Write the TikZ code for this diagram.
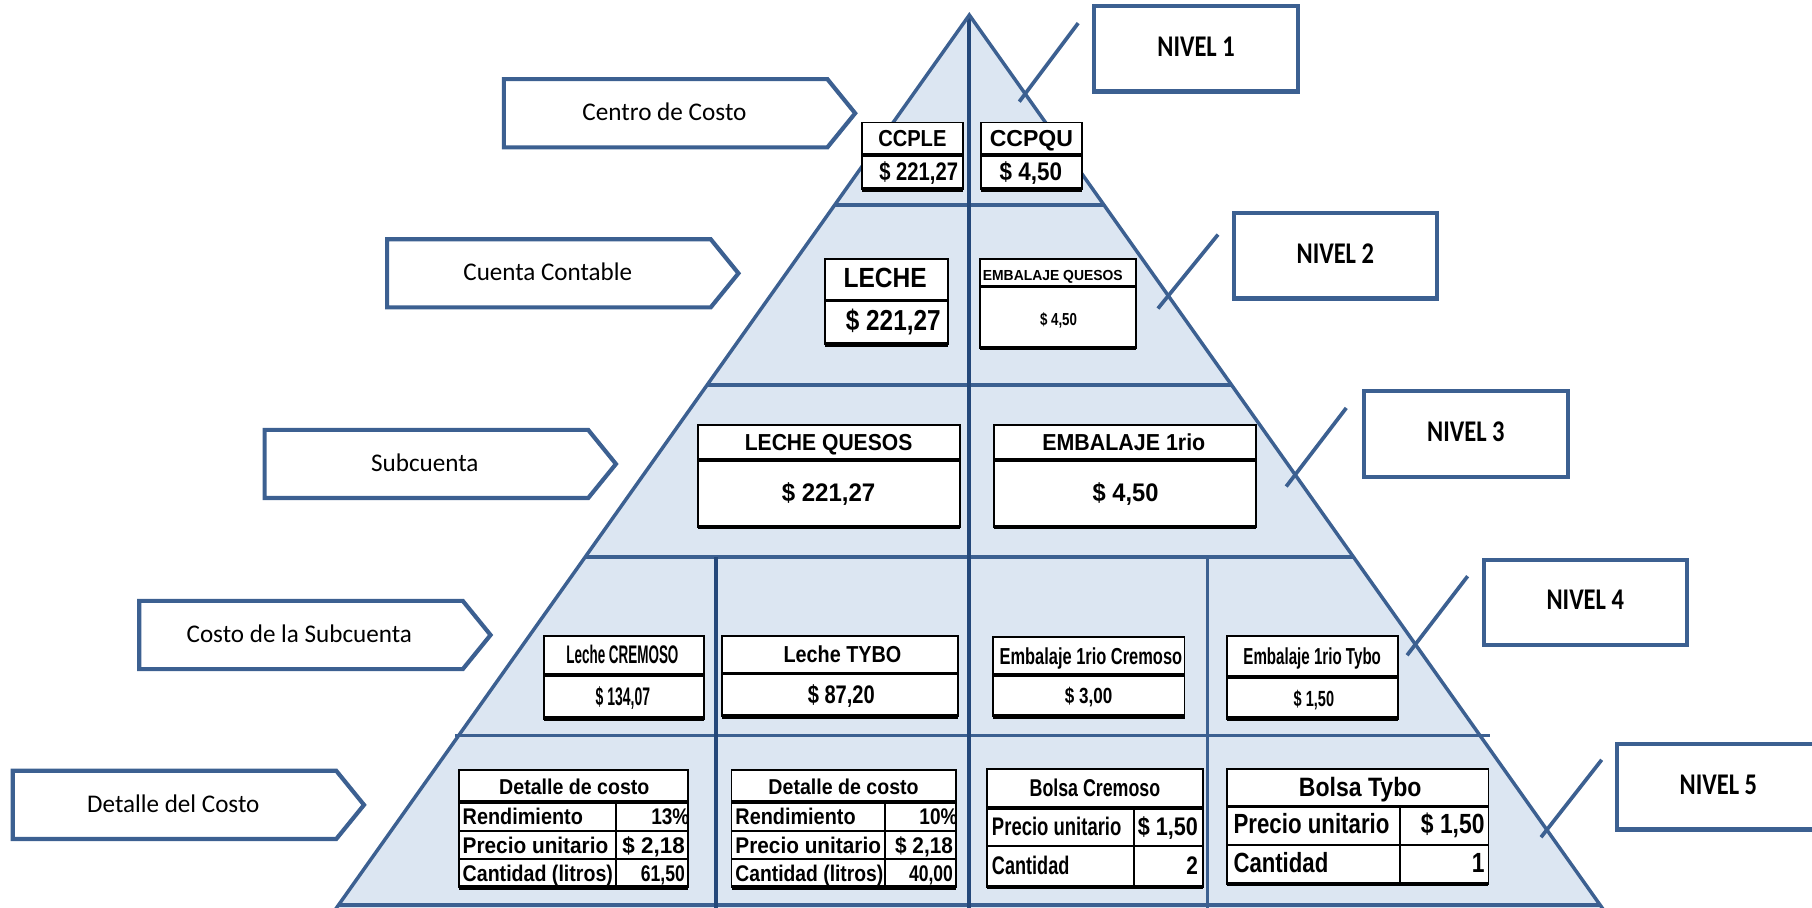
\documentclass[tikz,border=0pt]{standalone}
\usepackage{fontspec}
\usepackage{graphicx}
\setmainfont{Carlito}
\newfontfamily\arialf{Liberation Sans}

% horizontal fitting of a text to a given width (in picture units)
\newlength\fitunit
\setlength\fitunit{0.5pt}
\newcommand\fitt[2]{\resizebox{#1\fitunit}{\height}{#2}}
\newcommand\af[1]{\arialf\bfseries\fontsize{#1}{#1}\selectfont}
\newcommand\cf[1]{\fontsize{#1}{#1}\selectfont}

\definecolor{pyrfill}{RGB}{220,230,242}
\definecolor{pyrline}{RGB}{60,96,145}
\definecolor{midline}{RGB}{36,72,122}

% white table frame with a heavy bottom rule
\newcommand\tabframe[4]{%
  \fill[white] (#1,#2) rectangle (#3,#4);
  \draw[tabline] (#1,#2) rectangle (#3,#4);
  \draw[tabbottom] (#1,#4) -- (#3,#4);}

\tikzset{
  pyredge/.style={draw=pyrline, line width=1.5pt},
  pyrmid/.style={draw=midline, line width=1.8pt},
  pentline/.style={draw=pyrline, line width=1.8pt, fill=white, line join=miter},
  levelbox/.style={draw=pyrline, line width=1.8pt, fill=white, minimum width=88pt,
    minimum height=37pt, inner sep=0pt, font=\bfseries\cf{13}, text height=0.644em, text depth=0pt},
  hintline/.style={draw=pyrline, line width=1.6pt},
  penlabel/.style={inner sep=0pt, font=\cf{11}, text height=0.644em, text depth=0pt},
  tabline/.style={draw=black, line width=0.8pt},
  tabbottom/.style={draw=black, line width=2pt},
  tabsep/.style={draw=black, line width=1.5pt},
  tabrule/.style={draw=black, line width=0.8pt},
  tcell/.style={inner sep=0pt, text height=0.716em, text depth=0pt},
}

\begin{document}
\begin{tikzpicture}[x=0.5pt,y=-0.5pt]
\useasboundingbox (0,0) rectangle (1568,785);
\clip (0,0) rectangle (1568,785);

% ---------- pyramid ----------
\coordinate (apex) at (838.8,13);
\coordinate (bl) at (281,800);
\coordinate (br) at (1396.6,800);
\fill[pyrfill] (apex) -- (bl) -- (br) -- cycle;
\draw[pyredge] (722.2,177.5) -- (955.4,177.5);
\draw[pyredge] (612.0,333) -- (1065.6,333);
\draw[pyredge] (506.4,482) -- (1171.2,482);
\draw[pyredge] (394,636.5) -- (1289,636.5);
\draw[pyredge] (293,783) -- (1384.6,783);
\draw[pyrmid] (619.3,482) -- (619.3,800);
\draw[pyredge] (1044.8,482) -- (1044.8,800);
\draw[pyrmid] (apex) -- (838.8,800);
\draw[pyredge, line join=miter] (bl) -- (apex) -- (br);

% ---------- level names (left) ----------
\draw[pentline] (436,68.5) -- (716,68.5) -- (740,98) -- (716,127.5) -- (436,127.5) -- cycle;
\node[penlabel] (p1) at (575,98) {\fitt{142}{Centro de Costo}};
\draw[pentline] (335,207) -- (615,207) -- (639,236.5) -- (615,266) -- (335,266) -- cycle;
\node[penlabel] (p2) at (474,236.5) {\fitt{146}{Cuenta Contable}};
\draw[pentline] (229,372) -- (509,372) -- (533,401.5) -- (509,431) -- (229,431) -- cycle;
\node[penlabel] (p3) at (367.6,402) {\fitt{93}{Subcuenta}};
\draw[pentline] (120.5,520) -- (400.5,520) -- (424.5,549.5) -- (400.5,579) -- (120.5,579) -- cycle;
\node[penlabel] (p4) at (259,549.5) {\fitt{195}{Costo de la Subcuenta}};
\draw[pentline] (11,667) -- (291,667) -- (315,696.5) -- (291,726) -- (11,726) -- cycle;
\node[penlabel] (p5) at (150,696.5) {\fitt{149}{Detalle del Costo}};

% ---------- level boxes (right) ----------
\node[levelbox] (n1) at (1035,42.2) {\fitt{67}{NIVEL 1}};
\node[levelbox] (n2) at (1155.5,221.3) {\fitt{67}{NIVEL 2}};
\node[levelbox] (n3) at (1268.5,375.5) {\fitt{67}{NIVEL 3}};
\node[levelbox] (n4) at (1371.8,521.3) {\fitt{67}{NIVEL 4}};
\node[levelbox] (n5) at (1487,680.8) {\fitt{67}{NIVEL 5}};

% ---------- level marks across the right edge ----------
\coordinate (m1a) at (933,20);     \coordinate (m1b) at (882,88);
\coordinate (m2a) at (1054,203);   \coordinate (m2b) at (1002,267);
\coordinate (m3a) at (1165,353);   \coordinate (m3b) at (1113,421);
\coordinate (m4a) at (1270,498.6); \coordinate (m4b) at (1217.6,567);
\coordinate (m5a) at (1386,657.5); \coordinate (m5b) at (1333.5,724.5);
\draw[hintline] (m1a) -- (m1b);
\draw[hintline] (m2a) -- (m2b);
\draw[hintline] (m3a) -- (m3b);
\draw[hintline] (m4a) -- (m4b);
\draw[hintline] (m5a) -- (m5b);

% ---------- level 1 ----------
\tabframe{746}{106}{833}{164}
\draw[tabsep] (746,134) -- (833,134);
\node[tcell, font=\af{10}] (ccple-h) at (789.5,120) {\fitt{59}{CCPLE}};
\node[tcell, font=\af{11}] (ccple-v) at (795,149) {\fitt{68}{\$ 221,27}};
\tabframe{849}{106}{936}{164}
\draw[tabsep] (849,134) -- (936,134);
\node[tcell, font=\af{10}] (ccpqu-h) at (892.5,120) {\fitt{72}{CCPQU}};
\node[tcell, font=\af{11}] (ccpqu-v) at (892,149) {\fitt{54}{\$ 4,50}};

% ---------- level 2 ----------
\tabframe{714}{224}{820}{298}
\draw[tabsep] (714,260) -- (820,260);
\node[tcell, font=\af{12}] (leche-h) at (766,242) {\fitt{72}{LECHE}};
\node[tcell, font=\af{12.5}] (leche-v) at (773,279) {\fitt{82}{\$ 221,27}};
\tabframe{848}{224}{983}{301}
\draw[tabsep] (848,248) -- (983,248);
\node[tcell, font=\af{6.3}] (embq-h) at (911,236) {\fitt{121}{EMBALAJE QUESOS}};
\node[tcell, font=\af{7.5}] (embq-v) at (916,274.5) {\fitt{32}{\$ 4,50}};

% ---------- level 3 ----------
\tabframe{604}{368}{831}{456}
\draw[tabsep] (604,398) -- (831,398);
\node[tcell, font=\af{10}] (lq-h) at (717,383) {\fitt{145}{LECHE QUESOS}};
\node[tcell, font=\af{11}] (lq-v) at (717,427) {\fitt{81}{\$ 221,27}};
\tabframe{860}{368}{1087}{456}
\draw[tabsep] (860,398) -- (1087,398);
\node[tcell, font=\af{10}] (e1-h) at (972.5,383) {\fitt{141}{EMBALAJE 1rio}};
\node[tcell, font=\af{11}] (e1-v) at (974,427) {\fitt{57}{\$ 4,50}};

% ---------- level 4 ----------
\tabframe{471}{550}{609}{622}
\draw[tabsep] (471,584) -- (609,584);
\node[tcell, font=\af{11}] (lc-h) at (538.6,567) {\fitt{97}{Leche CREMOSO}};
\node[tcell, font=\af{11}] (lc-v) at (539,603) {\fitt{47}{\$ 134,07}};
\tabframe{625}{550}{829}{620}
\draw[tabsep] (625,583) -- (829,583);
\node[tcell, font=\af{10}] (lt-h) at (729,566.5) {\fitt{102}{Leche TYBO}};
\node[tcell, font=\af{11}] (lt-v) at (728,601.5) {\fitt{58}{\$ 87,20}};
\tabframe{859}{551}{1025}{620}
\draw[tabsep] (859,584) -- (1025,584);
\node[tcell, font=\af{10}] (ec-h) at (944,567.5) {\fitt{158}{Embalaje 1rio Cremoso}};
\node[tcell, font=\af{9.5}] (ec-v) at (942,602) {\fitt{41}{\$ 3,00}};
\tabframe{1062}{550}{1210}{622}
\draw[tabsep] (1062,586) -- (1210,586);
\node[tcell, font=\af{10}] (et-h) at (1135.5,568) {\fitt{119}{Embalaje 1rio Tybo}};
\node[tcell, font=\af{9.5}] (et-v) at (1137,604) {\fitt{35}{\$ 1,50}};

% ---------- level 5 ----------
% cost detail, first product
\tabframe{397}{666}{595}{768}
\draw[tabsep] (397,694) -- (595,694);
\draw[tabrule] (397,719) -- (595,719);
\draw[tabrule] (397,743.5) -- (595,743.5);
\draw[tabrule] (533,694) -- (533,768);
\node[tcell, font=\af{9.3}] (d1-h) at (497,680) {\fitt{130}{Detalle de costo}};
\node[tcell, font=\af{9.8}, anchor=west] (d1-r1) at (400,706.5) {\fitt{104}{Rendimiento}};
\node[tcell, font=\af{9.8}, anchor=east] (d1-v1) at (597,706.5) {\fitt{33}{13\%}};
\node[tcell, font=\af{9.8}, anchor=west] (d1-r2) at (400,731.2) {\fitt{126}{Precio unitario}};
\node[tcell, font=\af{9.8}, anchor=east] (d1-v2) at (593,731.2) {\fitt{54}{\$ 2,18}};
\node[tcell, font=\af{9.8}, anchor=west] (d1-r3) at (400,755.7) {\fitt{130}{Cantidad (litros)}};
\node[tcell, font=\af{9.8}, anchor=east] (d1-v3) at (593,755.7) {\fitt{38}{61,50}};
% cost detail, second product
\tabframe{633}{666}{827}{768}
\draw[tabsep] (633,694) -- (827,694);
\draw[tabrule] (633,719) -- (827,719);
\draw[tabrule] (633,743.5) -- (827,743.5);
\draw[tabrule] (766,694) -- (766,768);
\node[tcell, font=\af{9.3}] (d2-h) at (730,680) {\fitt{130}{Detalle de costo}};
\node[tcell, font=\af{9.8}, anchor=west] (d2-r1) at (636,706.5) {\fitt{104}{Rendimiento}};
\node[tcell, font=\af{9.8}, anchor=east] (d2-v1) at (829,706.5) {\fitt{33}{10\%}};
\node[tcell, font=\af{9.8}, anchor=west] (d2-r2) at (636,731.2) {\fitt{126}{Precio unitario}};
\node[tcell, font=\af{9.8}, anchor=east] (d2-v2) at (825,731.2) {\fitt{50}{\$ 2,18}};
\node[tcell, font=\af{9.8}, anchor=west] (d2-r3) at (636,755.7) {\fitt{128}{Cantidad (litros)}};
\node[tcell, font=\af{9.8}, anchor=east] (d2-v3) at (825,755.7) {\fitt{38}{40,00}};
% bag, first product
\tabframe{854}{665.5}{1041}{767.5}
\draw[tabsep] (854,699) -- (1041,699);
\draw[tabrule] (854,732) -- (1041,732);
\draw[tabrule] (981,699) -- (981,767.5);
\node[tcell, font=\af{10.5}] (b1-h) at (947.5,682.2) {\fitt{113}{Bolsa Cremoso}};
\node[tcell, font=\af{11}, anchor=west] (b1-r1) at (858,715.5) {\fitt{112}{Precio unitario}};
\node[tcell, font=\af{11}, anchor=east] (b1-v1) at (1037,715.5) {\fitt{52}{\$ 1,50}};
\node[tcell, font=\af{11}, anchor=west] (b1-r2) at (858,749.7) {\fitt{67}{Cantidad}};
\node[tcell, font=\af{11}, anchor=east] (b1-v2) at (1037,749.7) {\fitt{10}{2}};
% bag, second product
\tabframe{1062}{665.5}{1288}{765}
\draw[tabsep] (1062,698) -- (1288,698);
\draw[tabrule] (1062,731) -- (1288,731);
\draw[tabrule] (1211.6,698) -- (1211.6,765);
\node[tcell, font=\af{11.5}] (b2-h) at (1177,681.7) {\fitt{106}{Bolsa Tybo}};
\node[tcell, font=\af{12}, anchor=west] (b2-r1) at (1067,714.5) {\fitt{135}{Precio unitario}};
\node[tcell, font=\af{12}, anchor=east] (b2-v1) at (1285,714.5) {\fitt{55}{\$ 1,50}};
\node[tcell, font=\af{12}, anchor=west] (b2-r2) at (1067,748) {\fitt{82}{Cantidad}};
\node[tcell, font=\af{12}, anchor=east] (b2-v2) at (1285,748) {\fitt{11}{1}};
\end{tikzpicture}
\end{document}
